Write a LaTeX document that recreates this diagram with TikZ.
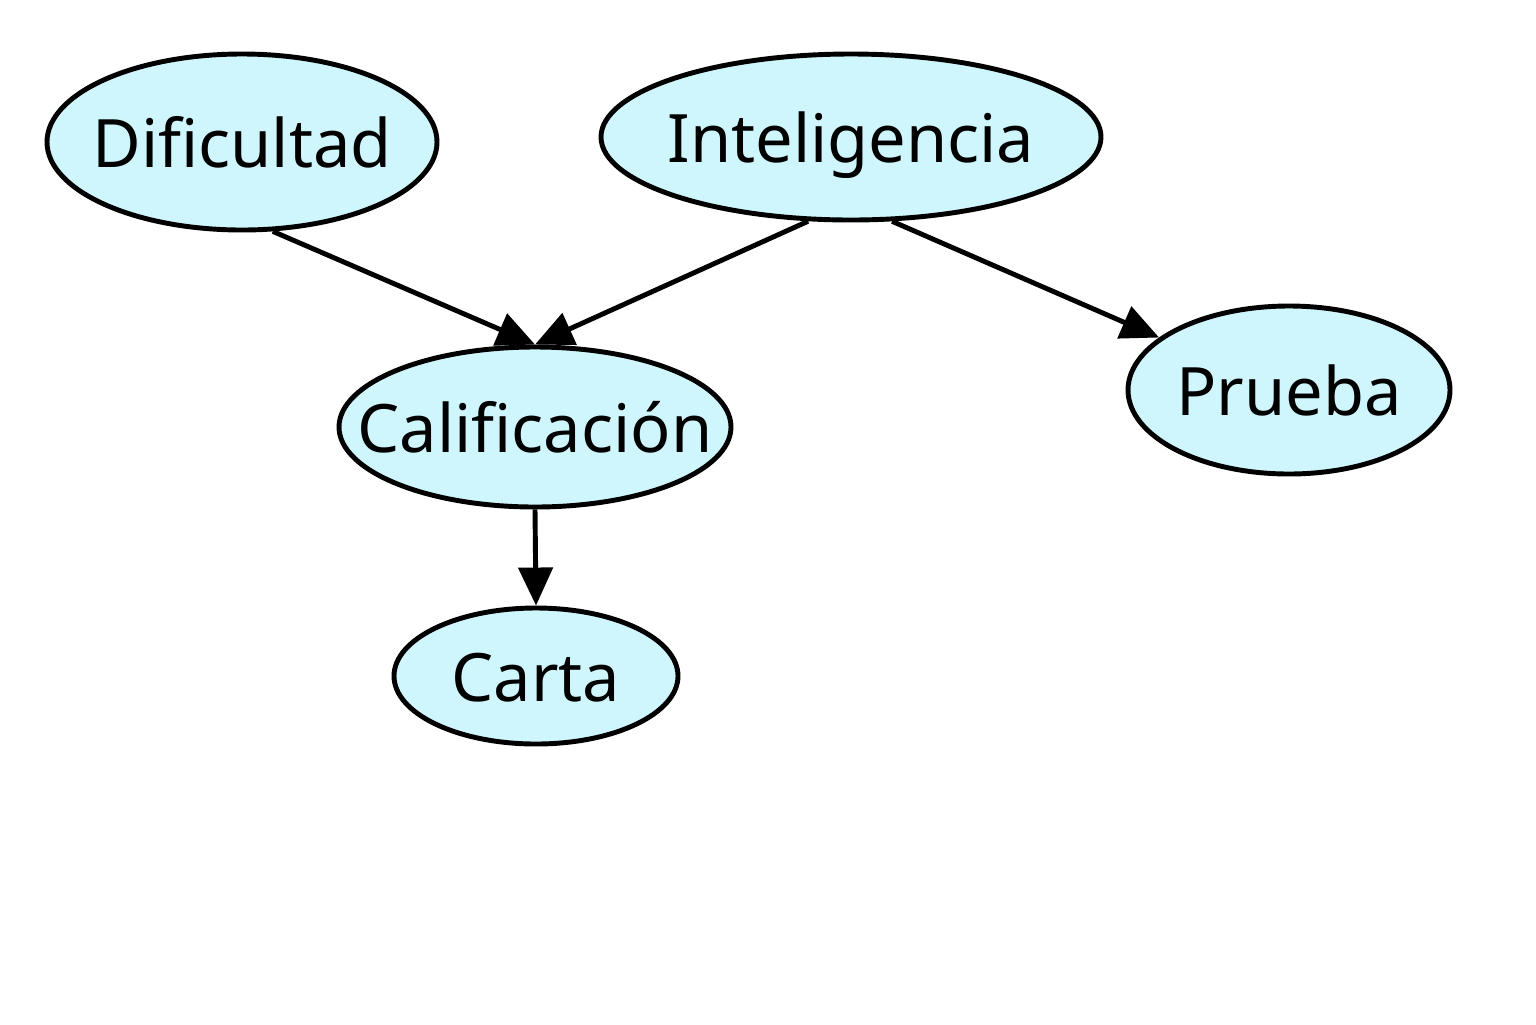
\documentclass[tikz,border=0pt]{standalone}
\usepackage{fontspec}
\setmainfont{Noto Sans}
\usetikzlibrary{shapes.geometric,arrows.meta}
\definecolor{nodefill}{HTML}{CFF6FC}
\newcommand{\vname}[1]{\makebox[0pt]{#1}}
\tikzset{
  var/.style={draw,shape=ellipse,fill=nodefill,line width=1.4pt,inner sep=0pt,text height=0.5cm,text depth=0cm,font=\fontsize{19}{23}\selectfont},
  edge/.style={line width=1.4pt,-{Triangle[length=0.38cm,width=0.34cm]}}
}
\begin{document}
\begin{tikzpicture}
      \useasboundingbox (0,0) rectangle (15.36,-10.24);
      \node[var,minimum width=3.9cm,minimum height=1.76cm] (dif) at (2.42,-1.42) {\vname{Dificultad}};
      \node[var,minimum width=5.0cm,minimum height=1.66cm] (int) at (8.51,-1.37) {\vname{Inteligencia}};
      \node[var,minimum width=3.92cm,minimum height=1.6cm] (cal) at (5.35,-4.27) {\vname{Calificación}};
      \node[var,minimum width=3.22cm,minimum height=1.68cm] (pru) at (12.89,-3.9) {\vname{Prueba}};
      \node[var,minimum width=2.84cm,minimum height=1.36cm] (car) at (5.36,-6.76) {\vname{Carta}};
      \draw[edge] (dif.-71)--(cal.north);
      \draw[edge] (int.-117)--(cal.north);
      \draw[edge] (int.-64)--(pru.158);
      \draw[edge] (cal.south)--(car.north);
    \end{tikzpicture}
\end{document}
